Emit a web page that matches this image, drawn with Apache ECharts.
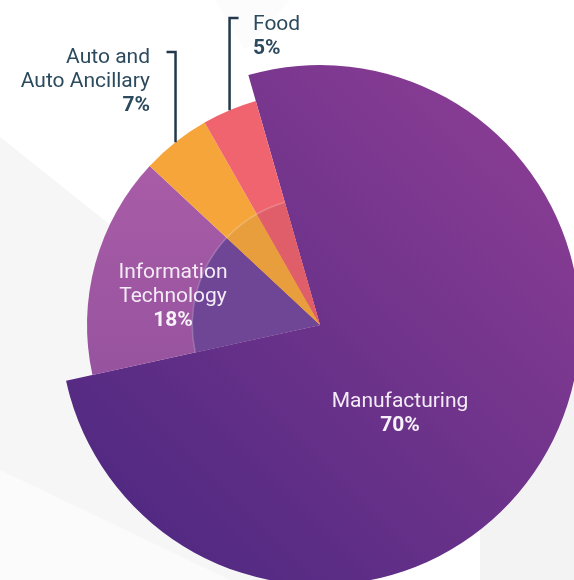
<!DOCTYPE html>
<html><head><meta charset="utf-8">
<script src="https://cdn.jsdelivr.net/npm/echarts@6/dist/echarts.min.js"></script>
<style>html,body{margin:0;padding:0;background:#fff}#c{width:574px;height:580px}</style>
</head><body><div id="c"></div>
<script>
// ---- data ----
const categories = ['Manufacturing', 'Information Technology', 'Auto and Auto Ancillary', 'Food'];
const labelNames = ['Manufacturing', 'Information\nTechnology', 'Auto and\nAuto Ancillary', 'Food'];
const percentValues = [70, 18, 7, 5];          // printed shares
const drawnShares = [76.0, 15.4, 4.8, 3.8];    // slice angles as drawn in the picture

// ---- styles ----
const CENTER = [320, 325];
const START = 106;
const manuGrad = new echarts.graphic.LinearGradient(0, 1, 1, 0, [
  {offset: 0, color: '#48267f'}, {offset: 1, color: '#913f96'}]);
const itGrad = new echarts.graphic.LinearGradient(0, 0, 0, 1, [
  {offset: 0, color: '#a95ca7'}, {offset: 1, color: '#97539f'}]);
const outerColors = [manuGrad, 'transparent', 'transparent', 'transparent'];
const smallColors = ['transparent', itGrad, '#f6a53a', '#ef646f'];
const innerColors = ['transparent', '#6f4596', '#e89e3c', '#e05e69'];
const darkText = '#2c4a5e';

const labelPos = [
  {x: 400, y: 390, align: 'center'},
  {x: 173, y: 261, align: 'center'},
  {x: 150, y: 46, align: 'right'},
  {x: 253, y: 13, align: 'left'}
];
const bracket = [null, null, {top: 52, tick: -9}, {top: 18, tick: 9}];

function pieData(colors) {
  return categories.map((c, i) => ({name: c, value: drawnShares[i], itemStyle: {color: colors[i]}}));
}

const base = {type: 'pie', center: CENTER, startAngle: START, clockwise: true,
  silent: true, animation: false, label: {show: false}, labelLine: {show: false}};

const chart = echarts.init(document.getElementById('c'), null, {renderer: 'canvas'});
chart.setOption({
  backgroundColor: '#ffffff',
  graphic: [
    {type: 'polygon', silent: true, z: -10, shape: {points: [[0, 137], [330, 400], [330, 580], [0, 580]]}, style: {fill: '#f6f6f7'}},
    {type: 'polygon', silent: true, z: -9, shape: {points: [[0, 470], [230, 580], [0, 580]]}, style: {fill: '#fbfbfb'}},
    {type: 'polygon', silent: true, z: -9, shape: {points: [[480, 500], [574, 380], [574, 580], [480, 580]]}, style: {fill: '#f3f3f4'}},
    {type: 'polygon', silent: true, z: -9, shape: {points: [[215, 0], [290, 0], [245, 50]]}, style: {fill: '#fcfcfc'}}
  ],
  series: [
    Object.assign({}, base, {radius: [0, 260], z: 2, data: pieData(outerColors)}),
    Object.assign({}, base, {radius: [0, 233], z: 3, data: pieData(smallColors)}),
    Object.assign({}, base, {radius: [0, 128], z: 4, data: pieData(innerColors)}),
    Object.assign({}, base, {radius: [127, 128.5], z: 5,
      data: categories.map((c, i) => ({name: c, value: drawnShares[i],
        itemStyle: {color: i === 0 ? 'transparent' : 'rgba(255,255,255,0.22)'}}))}),
    Object.assign({}, base, {
      radius: [0, 233], z: 10,
      data: categories.map((c, i) => ({
        name: c, value: drawnShares[i],
        itemStyle: {color: 'transparent'},
        label: {
          show: true,
          position: i < 2 ? 'inside' : 'outside',
          overflow: 'none',
          width: 300,
          formatter: '{n|' + labelNames[i].split('\n').join('}\n{n|') + '}\n{p|' + percentValues[i] + '%}',
          rich: {
            n: {fontFamily: 'Roboto', fontSize: 21, lineHeight: 24,
                color: i < 2 ? '#f3ebf6' : darkText, align: labelPos[i].align},
            p: {fontFamily: 'Roboto', fontSize: 21, lineHeight: 24, fontWeight: 'bold',
                color: i < 2 ? '#f7f1f9' : darkText, align: labelPos[i].align}
          }
        },
        labelLine: {show: i >= 2, lineStyle: {color: '#23394b', width: 2.5, cap: 'butt', join: 'miter'}, smooth: false}
      })),
      labelLayout: function (params) {
        const i = params.dataIndex;
        const p = labelPos[i];
        const out = {x: p.x, y: p.y, align: p.align, verticalAlign: 'top', width: 300};
        const b = bracket[i];
        if (b && params.labelLinePoints) {
          const p0 = params.labelLinePoints[0];
          out.labelLinePoints = [[p0[0], p0[1]], [p0[0], b.top], [p0[0] + b.tick, b.top]];
        }
        return out;
      }
    })
  ]
});
</script>
</body></html>
